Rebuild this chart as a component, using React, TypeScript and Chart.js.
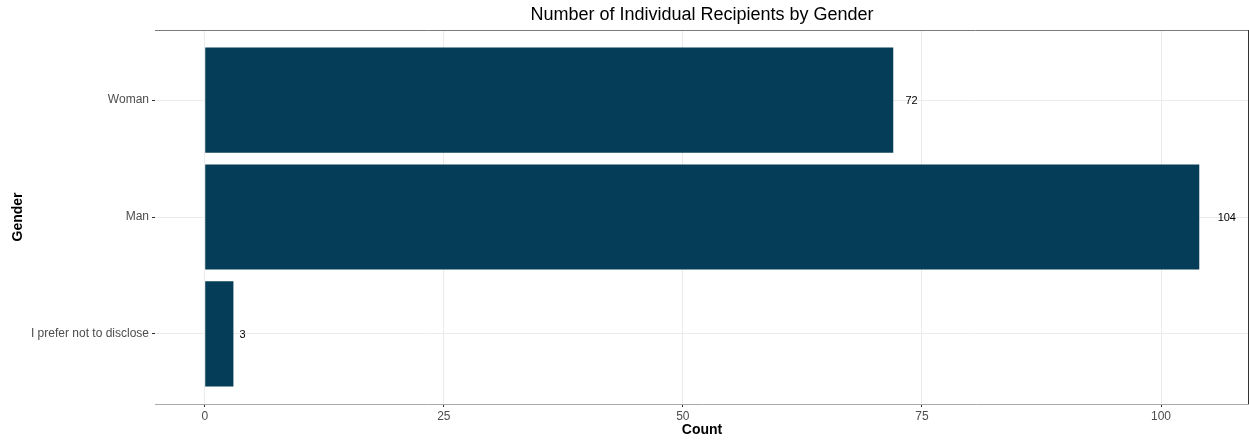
import { useEffect, useRef } from 'react';
import { Chart, registerables } from 'chart.js';

Chart.register(...registerables);

const categories = ['Woman', 'Man', 'I prefer not to disclose'];
const counts = [72, 104, 3];
const xTicks = [0, 25, 50, 75, 100];
const chartTitle = 'Number of Individual Recipients by Gender';
const xTitle = 'Count';
const yTitle = 'Gender';

const FONT = '"Liberation Sans", Arial, sans-serif';

export default function App() {
  const ref = useRef<HTMLCanvasElement>(null);

  useEffect(() => {
    if (!ref.current) return;
    const positions = categories.map((_, i) => categories.length - i);
    const data = counts.map((v, i) => ({ x: v, y: positions[i] }));
    const posToLabel = new Map<number, string>(positions.map((p, i) => [p, categories[i]]));

    const overlay = {
      id: 'overlay',
      afterDatasetsDraw(chart: any) {
        const ctx = chart.ctx;
        const meta = chart.getDatasetMeta(0);
        ctx.save();
        ctx.font = `11px ${FONT}`;
        ctx.fillStyle = '#000000';
        ctx.textAlign = 'left';
        ctx.textBaseline = 'middle';
        meta.data.forEach((el: any, i: number) => {
          const t = String(counts[i]);
          const w = ctx.measureText(t).width;
          ctx.fillText(t, el.x + w, el.y + 1);
        });
        ctx.restore();
      },
      afterDraw(chart: any) {
        const { ctx, chartArea: a } = chart;
        ctx.save();
        ctx.lineWidth = 1;
        ctx.strokeStyle = '#7a7a7a';
        ctx.beginPath();
        ctx.moveTo(a.left, Math.round(a.top) + 0.5);
        ctx.lineTo(a.right, Math.round(a.top) + 0.5);
        ctx.stroke();
        ctx.strokeStyle = '#333333';
        ctx.beginPath();
        ctx.moveTo(Math.round(a.right) - 0.5, a.top);
        ctx.lineTo(Math.round(a.right) - 0.5, a.bottom);
        ctx.stroke();

        ctx.fillStyle = '#000000';
        ctx.textAlign = 'center';
        ctx.textBaseline = 'middle';
        ctx.font = `18px ${FONT}`;
        ctx.fillText(chartTitle, (a.left + a.right) / 2, 15);

        ctx.font = `bold 14px ${FONT}`;
        ctx.fillText(xTitle, (a.left + a.right) / 2, 430);

        ctx.translate(18, (a.top + a.bottom) / 2);
        ctx.rotate(-Math.PI / 2);
        ctx.fillText(yTitle, 0, 0);
        ctx.restore();
      },
    };

    const chart = new Chart(ref.current, {
      type: 'bar',
      data: {
        datasets: [
          {
            data: data as any,
            backgroundColor: '#053c57',
            borderWidth: 0,
            barPercentage: 0.9,
            categoryPercentage: 1,
          },
        ],
      },
      options: {
        indexAxis: 'y',
        responsive: false,
        animation: false,
        layout: { padding: { top: 30, right: 0, left: 0, bottom: 0 } },
        plugins: {
          legend: { display: false },
          title: { display: false },
          tooltip: { enabled: false },
        },
        scales: {
          x: {
            type: 'linear',
            min: -5.2,
            max: 109.2,
            offset: false,
            afterBuildTicks: (s: any) => {
              s.ticks = xTicks.map((v) => ({ value: v }));
            },
            afterFit: (s: any) => {
              s.height = 37;
            },
            grid: {
              offset: false,
              color: '#ebebeb',
              lineWidth: 1,
              drawTicks: true,
              tickLength: 3,
              tickColor: '#333333',
            },
            border: { display: true, color: '#aaaaaa', width: 1 },
            ticks: {
              color: '#4d4d4d',
              font: { family: FONT, size: 12 },
              padding: 2,
              maxRotation: 0,
            },
          },
          y: {
            type: 'linear',
            min: 0.4,
            max: categories.length + 0.6,
            offset: false,
            afterBuildTicks: (s: any) => {
              s.ticks = positions.map((v) => ({ value: v }));
            },
            afterFit: (s: any) => {
              s.width = 155;
            },
            grid: {
              offset: false,
              color: '#ebebeb',
              lineWidth: 1,
              drawTicks: true,
              tickLength: 3,
              tickColor: '#333333',
            },
            border: { display: false },
            ticks: {
              color: '#4d4d4d',
              font: { family: FONT, size: 12 },
              padding: 3,
              callback: (v: any) => posToLabel.get(Number(v)) ?? '',
            },
          },
        },
      },
      plugins: [overlay],
    });

    return () => chart.destroy();
  }, []);

  return (
    <div style={{ position: 'absolute', left: 0, top: 0, width: 1249, height: 441, background: '#ffffff' }}>
      <canvas ref={ref} width={1249} height={441} style={{ display: 'block' }} />
    </div>
  );
}
